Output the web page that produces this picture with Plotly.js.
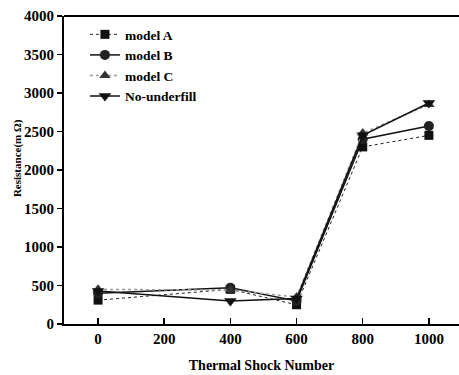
<!DOCTYPE html>
<html>
<head>
<meta charset="utf-8">
<script src="https://cdn.plot.ly/plotly-3.0.1.min.js"></script>
<style>html,body{margin:0;padding:0;background:#fff;}#chart{width:459px;height:375px;}</style>
</head>
<body>
<div id="chart"></div>
<script>
const cycles = [0, 400, 600, 800, 1000];
const modelA = [310, 450, 250, 2300, 2450];
const modelB = [400, 470, 300, 2400, 2570];
const modelC = [450, 440, 350, 2480, 2850];
const noUnderfill = [430, 300, 330, 2450, 2870];
const xTicks = [0, 200, 400, 600, 800, 1000];
const yTicks = [0, 500, 1000, 1500, 2000, 2500, 3000, 3500, 4000];
const yTitle = 'Resistance(m Ω)';

const font = {family: '"Liberation Serif", "Times New Roman", serif', color: '#000'};

const traces = [
  {x: cycles, y: modelA, name: 'model A', mode: 'lines+markers',
   line: {color: '#222', width: 1, dash: 'dot'},
   marker: {symbol: 'square', size: 9, color: '#111'}},
  {x: cycles, y: modelB, name: 'model B', mode: 'lines+markers',
   line: {color: '#111', width: 1.5},
   marker: {symbol: 'circle', size: 10, color: '#222'}},
  {x: cycles, y: modelC, name: 'model C', mode: 'lines+markers',
   line: {color: '#999', width: 1.5, dash: 'dot'},
   marker: {symbol: 'triangle-up', size: 10, color: '#333'}},
  {x: cycles, y: noUnderfill, name: 'No-underfill', mode: 'lines+markers',
   line: {color: '#111', width: 1.5},
   marker: {symbol: 'triangle-down', size: 11, color: '#111'}}
];

const layout = {
  width: 459, height: 375,
  margin: {l: 64, r: 0, t: 16, b: 51},
  paper_bgcolor: '#fff', plot_bgcolor: '#fff',
  font: Object.assign({size: 13}, font),
  showlegend: true,
  legend: {x: 0.053, y: 0.99, xanchor: 'left', yanchor: 'top',
    bgcolor: 'rgba(0,0,0,0)', borderwidth: 0, tracegroupgap: 0,
    font: Object.assign({size: 13.5, weight: 'bold'}, font)},
  xaxis: {
    range: [-103, 1091], tickvals: xTicks, ticktext: xTicks.map(String),
    ticks: 'inside', ticklen: 6, tickwidth: 1.5, tickcolor: '#000',
    showline: true, linecolor: '#000', linewidth: 2, mirror: false,
    showgrid: false, zeroline: false,
    tickfont: Object.assign({size: 15, weight: 'bold'}, font),
    title: {text: 'Thermal Shock Number', standoff: 14,
      font: Object.assign({size: 14, weight: 'bold'}, font)}
  },
  yaxis: {
    range: [0, 4000], tickvals: yTicks, ticktext: yTicks.map(String),
    ticks: 'outside', ticklen: 5, tickwidth: 1.5, tickcolor: '#000',
    showline: true, linecolor: '#000', linewidth: 2,
    showgrid: false, zeroline: false,
    tickfont: Object.assign({size: 15, weight: 'bold'}, font)
  },
  annotations: [{text: yTitle, textangle: -90, xref: 'paper', yref: 'paper',
    x: -0.118, y: 0.54, xanchor: 'center', yanchor: 'middle', showarrow: false,
    font: Object.assign({size: 11, weight: 'bold'}, font)}],
  shapes: [{type: 'line', xref: 'paper', yref: 'paper', x0: 0, x1: 1, y0: 1, y1: 1,
    line: {color: '#000', width: 2}}]
};

Plotly.newPlot('chart', traces, layout, {displayModeBar: false, staticPlot: true});
</script>
</body>
</html>
